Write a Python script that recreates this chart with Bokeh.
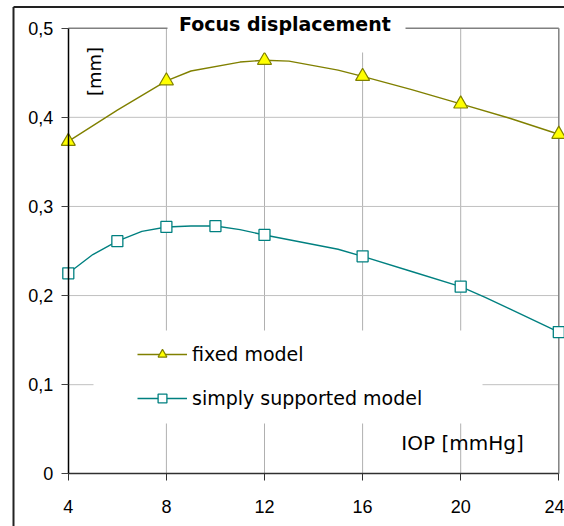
from bokeh.plotting import figure
from bokeh.models import (Range1d, FixedTicker, CustomJSTickFormatter, Label,
                          BoxAnnotation, Legend, LegendItem)
from bokeh.embed import file_html
from bokeh.resources import INLINE
import math

# ---- data ----
iop_ticks = [4, 8, 12, 16, 20, 24]
disp_ticks = [0, 0.1, 0.2, 0.3, 0.4, 0.5]

fixed_iop = [4, 8, 12, 16, 20, 24]
fixed_disp = [0.373, 0.441, 0.464, 0.446, 0.415, 0.381]
fixed_curve_iop = [4, 6, 8, 9, 11, 12, 13, 15, 16, 18, 20, 22, 24]
fixed_curve_disp = [0.373, 0.408, 0.441, 0.452, 0.462, 0.464, 0.463, 0.453,
                    0.446, 0.431, 0.415, 0.399, 0.381]

simply_iop = [4, 6, 8, 10, 12, 16, 20, 24]
simply_disp = [0.225, 0.261, 0.277, 0.278, 0.268, 0.244, 0.210, 0.159]
simply_curve_iop = [4, 5, 6, 7, 8, 9, 10, 11, 12, 15, 16, 18, 20, 21, 22, 24]
simply_curve_disp = [0.225, 0.246, 0.261, 0.272, 0.277, 0.278, 0.278, 0.274,
                     0.268, 0.252, 0.244, 0.227, 0.210, 0.198, 0.185, 0.159]

series_labels = ["fixed model", "simply supported model"]
title_text = "Focus displacement"
x_label = "IOP [mmHg]"
y_label = "[mm]"

# ---- layout (pixel geometry of the canvas) ----
W, H = 564, 526
X4_PX, X_PER = 67.8, 24.525       # pixel of x=4, pixels per IOP unit
Y0_PX, Y_PER = 473.3, 891.2       # pixel of y=0, pixels per mm


def dx(px):
    return 4 + (px - X4_PX) / X_PER


def dy(px):
    return (Y0_PX - px) / Y_PER


TICK_FONT = "Liberation Sans"
TEXT_FONT = "DejaVu Sans"

p = figure(width=W, height=H,
           x_range=Range1d(dx(0), dx(W)), y_range=Range1d(dy(H), dy(0)),
           output_backend="svg", toolbar_location=None,
           min_border_left=0, min_border_right=0,
           min_border_top=0, min_border_bottom=0)
p.xgrid.visible = False
p.ygrid.visible = False
p.outline_line_color = None
p.background_fill_color = "white"
p.border_fill_color = "white"

# outer chart frame
p.segment(x0=[dx(13), dx(13)], y0=[dy(6.5), dy(6.5)],
          x1=[dx(13), dx(W + 10)], y1=[dy(H + 10), dy(6.5)],
          line_color="#222222", line_width=2)

# grid lines
vx = iop_ticks[1:-1]
p.segment(x0=vx, y0=[disp_ticks[0]] * len(vx), x1=vx, y1=[disp_ticks[-1]] * len(vx),
          line_color="#b0b0b0", line_width=1)
hy = disp_ticks[1:-1]
p.segment(x0=[iop_ticks[0]] * len(hy), y0=hy, x1=[iop_ticks[-1]] * len(hy), y1=hy,
          line_color="#c0c0c0", line_width=1)
# plot area border (top / right)
p.segment(x0=[iop_ticks[0], iop_ticks[-1]], y0=[disp_ticks[-1], disp_ticks[0]],
          x1=[iop_ticks[-1], iop_ticks[-1]], y1=[disp_ticks[-1], disp_ticks[-1]],
          line_color="#808080", line_width=1.5)

# series
fl = p.line(fixed_curve_iop, fixed_curve_disp, line_color="#808000", line_width=1.4)
fm = p.scatter(fixed_iop, fixed_disp, marker="triangle", size=14,
               fill_color="#ffff00", line_color="#808000", line_width=1.2)
sl = p.line(simply_curve_iop, simply_curve_disp, line_color="#008080", line_width=1.4)
sm = p.scatter(simply_iop, simply_disp, marker="square", size=11,
               fill_color="white", line_color="#008080", line_width=1.3)

# axes
p.xaxis.fixed_location = disp_ticks[0]
p.xaxis.ticker = FixedTicker(ticks=iop_ticks)
p.xaxis.bounds = (iop_ticks[0], iop_ticks[-1])
p.xaxis.axis_line_color = "#303030"
p.xaxis.axis_line_width = 1.5
p.xaxis.major_tick_out = 7
p.xaxis.major_tick_in = 0
p.xaxis.major_tick_line_color = "#303030"
p.xaxis.minor_tick_line_color = None
p.xaxis.major_label_standoff = 19
p.xaxis.major_label_text_font = TICK_FONT
p.xaxis.major_label_text_font_size = "18px"
p.xaxis.major_label_text_color = "black"

p.yaxis.fixed_location = iop_ticks[0]
p.yaxis.ticker = FixedTicker(ticks=disp_ticks)
p.yaxis.bounds = (disp_ticks[0], disp_ticks[-1])
p.yaxis.formatter = CustomJSTickFormatter(
    code="return tick == 0 ? '0' : tick.toFixed(1).replace('.', ',');")
p.yaxis.axis_line_color = "black"
p.yaxis.axis_line_width = 1.5
p.yaxis.major_tick_out = 7
p.yaxis.major_tick_in = 0
p.yaxis.major_tick_line_color = "#404040"
p.yaxis.minor_tick_line_color = None
p.yaxis.major_label_standoff = 8
p.yaxis.major_label_text_font = TICK_FONT
p.yaxis.major_label_text_font_size = "18px"
p.yaxis.major_label_text_color = "black"

# white boxes behind title and legend
p.add_layout(BoxAnnotation(left=dx(167), right=dx(405), bottom=dy(52), top=dy(8),
                           fill_color="white", fill_alpha=1, line_color=None))
p.add_layout(BoxAnnotation(left=dx(93), right=dx(482), bottom=dy(423), top=dy(330),
                           fill_color="white", fill_alpha=1, line_color=None))

legend = Legend(items=[LegendItem(label=series_labels[0], renderers=[fl, fm]),
                       LegendItem(label=series_labels[1], renderers=[sl, sm])],
                location=(137, 117), glyph_width=50, glyph_height=22,
                label_height=22, label_standoff=5, spacing=22, padding=0, margin=0,
                background_fill_alpha=0, border_line_color=None,
                label_text_font=TEXT_FONT, label_text_font_size="19px",
                label_text_color="black")
p.add_layout(legend)

p.add_layout(Label(x=dx(284.4), y=dy(23.3), text=title_text, text_align="center",
                   text_baseline="middle", text_font=TEXT_FONT, text_font_style="bold",
                   text_font_size="19px", text_color="black"))
p.add_layout(Label(x=dx(94), y=dy(71), text=y_label, angle=math.pi / 2,
                   text_align="center", text_baseline="middle", text_font=TEXT_FONT,
                   text_font_size="18px", text_color="black"))
p.add_layout(Label(x=dx(462), y=dy(442), text=x_label, text_align="center",
                   text_baseline="middle", text_font=TEXT_FONT,
                   text_font_size="20px", text_color="black"))

open("out.html", "w").write(file_html(p, INLINE))
